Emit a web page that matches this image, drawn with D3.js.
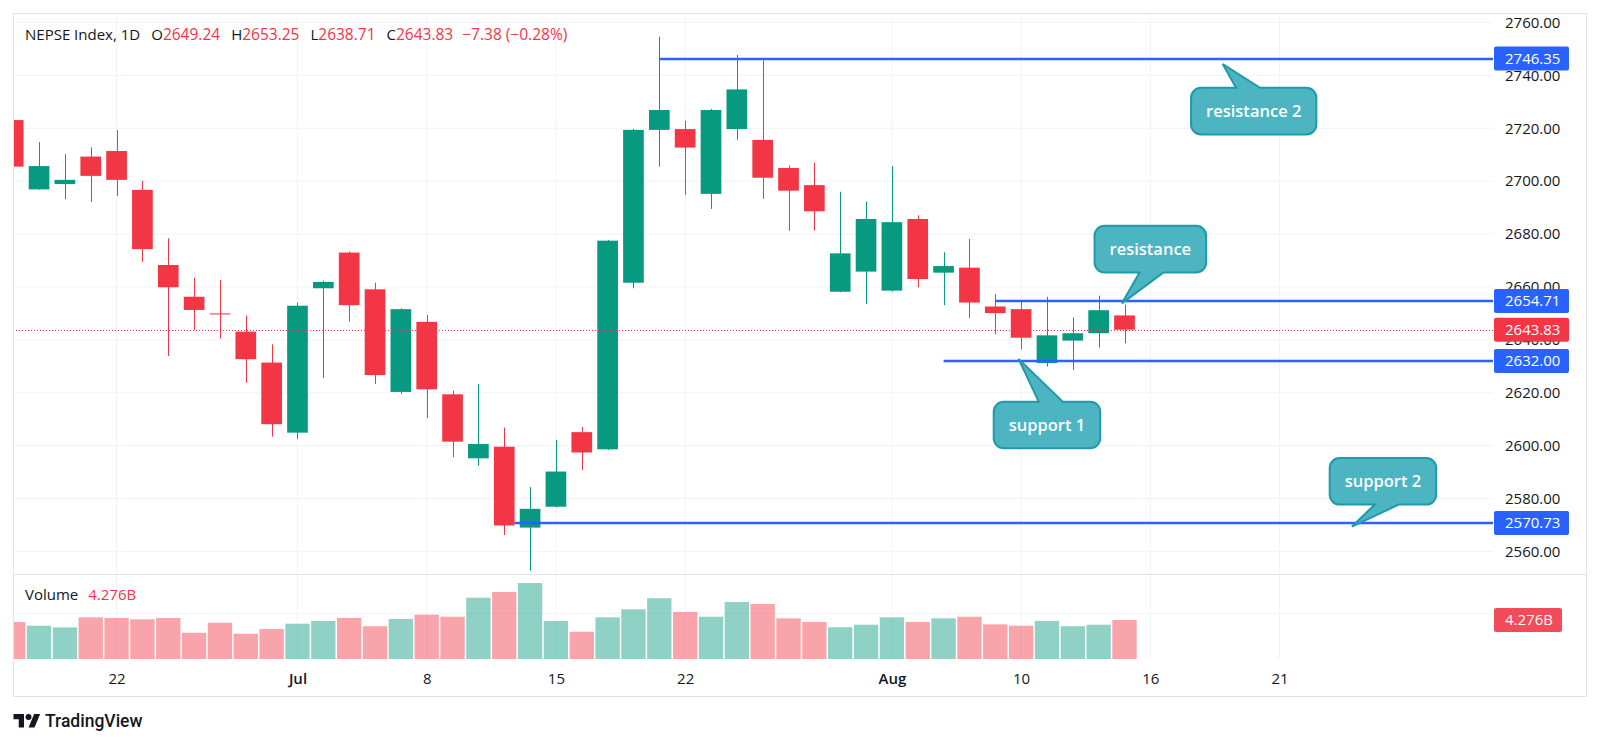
<!DOCTYPE html>
<html>
<head>
<meta charset="utf-8">
<script src="https://cdn.jsdelivr.net/npm/d3@7"></script>
<style>
  html, body { margin: 0; padding: 0; background: #fff; }
  svg { display: block; font-family: "Open Sans", "Noto Sans", sans-serif; }
</style>
</head>
<body>
<svg id="chart" width="1600" height="745"></svg>
<script>
// daily bars, index 0..43
const opens  = [2723.1, 2696.9, 2698.9, 2709.3, 2711.4, 2696.7, 2668.3, 2656.3, 2650.0, 2643.1,
                2631.4, 2604.9, 2659.5, 2673.0, 2659.1, 2620.3, 2646.8, 2619.4, 2595.2, 2599.6,
                2569.0, 2576.9, 2605.1, 2598.6, 2661.6, 2719.4, 2719.7, 2695.2, 2719.7, 2715.6,
                2705.0, 2698.5, 2658.2, 2665.8, 2658.6, 2685.7, 2665.4, 2667.3, 2652.6, 2651.6,
                2631.2, 2639.7, 2642.5, 2649.24];
const highs  = [2723.5, 2714.8, 2710.2, 2712.8, 2719.4, 2700.1, 2678.4, 2663.5, 2662.6, 2649.2,
                2638.3, 2654.1, 2662.4, 2673.4, 2661.6, 2651.9, 2649.4, 2620.8, 2623.3, 2606.8,
                2584.3, 2602.2, 2607.0, 2677.8, 2719.8, 2754.6, 2722.8, 2727.3, 2747.7, 2745.6,
                2706.0, 2707.0, 2696.0, 2692.3, 2705.7, 2687.1, 2673.1, 2678.1, 2657.4, 2654.3,
                2656.3, 2648.5, 2656.7, 2653.25];
const lows   = [2702.0, 2696.8, 2693.2, 2692.1, 2694.4, 2669.5, 2633.9, 2643.7, 2640.5, 2623.8,
                2603.4, 2602.5, 2625.5, 2646.9, 2623.3, 2619.5, 2610.4, 2595.6, 2592.4, 2566.2,
                2552.6, 2576.6, 2590.8, 2598.3, 2659.5, 2705.5, 2694.8, 2689.5, 2715.6, 2693.3,
                2681.2, 2681.3, 2658.0, 2653.5, 2658.2, 2659.9, 2653.1, 2648.2, 2642.1, 2636.4,
                2629.9, 2628.6, 2637.1, 2638.71];
const closes = [2705.5, 2705.7, 2700.5, 2702.0, 2700.5, 2674.3, 2659.9, 2651.3, 2649.6, 2632.7,
                2608.1, 2652.9, 2661.9, 2653.1, 2626.7, 2651.6, 2621.3, 2601.5, 2600.6, 2569.8,
                2576.1, 2590.2, 2597.4, 2677.5, 2719.4, 2726.9, 2712.7, 2726.9, 2734.7, 2701.3,
                2696.4, 2688.6, 2672.7, 2685.7, 2684.5, 2663.0, 2667.9, 2654.1, 2650.1, 2640.8,
                2641.7, 2642.5, 2651.21, 2643.83];
// volume in billions
const volumes = [4.06, 3.65, 3.47, 4.57, 4.50, 4.35, 4.50, 2.88, 3.98, 2.77,
                 3.29, 3.87, 4.17, 4.50, 3.59, 4.39, 4.86, 4.64, 6.72, 7.35,
                 8.33, 4.17, 2.99, 4.57, 5.45, 6.66, 5.15, 4.64, 6.25, 6.03,
                 4.46, 4.06, 3.48, 3.76, 4.57, 4.06, 4.46, 4.64, 3.80, 3.65,
                 4.17, 3.59, 3.76, 4.276];

const timeTickIdx = [4, 11, 16, 21, 26, 34, 39, 44, 49];
const timeTickLabels = ["22", "Jul", "8", "15", "22", "Aug", "10", "16", "21"];
const monthTicks = ["Jul", "Aug"];
const priceTicks = [2560, 2580, 2600, 2620, 2640, 2660, 2680, 2700, 2720, 2740, 2760];
const volumeTicks = [5];

// horizontal levels drawn on the chart
const levelPrices = [2746.35, 2654.71, 2632.00, 2570.73];
const levelStarts = [25, 38, 36, 19.4];

// callouts: text, box centre and tail tip in (bar index, price)
const calloutTexts = ["resistance 2", "resistance", "support 1", "support 2"];
const calloutBoxIdx = [48, 44, 40, 53];
const calloutBoxPrice = [2726.5, 2674.3, 2607.8, 2586.5];
const calloutTipIdx = [46.8, 42.9, 38.9, 51.8];
const calloutTipPrice = [2744.3, 2653.8, 2632.8, 2569.4];

const up = '#089981', down = '#f23645', blue = '#2962ff';
const grid = '#f0f3fa', frame = '#e0e3eb', ink = '#131722';
const font = '"Open Sans", "Noto Sans", sans-serif';

const paneL = 13, paneR = 1493, frameR = 1587, paneT = 13, sep = 574, volBase = 659, frameB = 697;

let svg = d3.select('#chart');

let x = d3.scaleLinear().domain([0, 43]).range([13.2, 1124.5]);
let y = d3.scaleLinear().domain([2560, 2760]).range([551.4, 22.5]);
let yv = d3.scaleLinear().domain([0, 5]).range([volBase, 613.4]);
let step = x(1) - x(0);

let bars = opens.map((o, i) => ({
    i: i, o: o, h: highs[i], l: lows[i], c: closes[i], v: volumes[i], up: closes[i] >= o
}));
let last = bars[bars.length - 1];
let prev = bars[bars.length - 2];

let defs = svg.append('defs');
defs.append('clipPath').attr('id', 'price-clip')
    .append('rect').attr('x', paneL).attr('y', paneT).attr('width', paneR - paneL).attr('height', sep - paneT);
defs.append('clipPath').attr('id', 'vol-clip')
    .append('rect').attr('x', paneL).attr('y', sep).attr('width', paneR - paneL).attr('height', volBase - sep);

/// GRID ///
let gridG = svg.append('g').attr('class', 'grid');
gridG.selectAll('.hgrid').data(priceTicks).join('line').attr('class', 'hgrid')
    .attr('x1', paneL).attr('x2', paneR)
    .attr('y1', d => y(d)).attr('y2', d => y(d))
    .attr('stroke', grid).attr('stroke-width', 1);
gridG.selectAll('.vgrid-v').data(volumeTicks).join('line').attr('class', 'vgrid-v')
    .attr('x1', paneL).attr('x2', paneR)
    .attr('y1', d => yv(d)).attr('y2', d => yv(d))
    .attr('stroke', grid).attr('stroke-width', 1);
gridG.selectAll('.tgrid').data(timeTickIdx).join('line').attr('class', 'tgrid')
    .attr('x1', d => x(d)).attr('x2', d => x(d))
    .attr('y1', paneT).attr('y2', volBase)
    .attr('stroke', grid).attr('stroke-width', 1);

/// VOLUME ///
svg.append('g').attr('clip-path', 'url(#vol-clip)')
    .selectAll('rect').data(bars).join('rect')
    .attr('x', d => x(d.i) - step / 2 + 0.75)
    .attr('width', step - 1.5)
    .attr('y', d => yv(d.v))
    .attr('height', d => volBase - yv(d.v))
    .attr('fill', d => d.up ? 'rgba(8,153,129,0.45)' : 'rgba(242,54,69,0.45)');

/// CANDLES ///
let candleG = svg.append('g').attr('clip-path', 'url(#price-clip)');
let bodyW = step * 0.8;
let candles = candleG.selectAll('g.candle').data(bars).join('g').attr('class', 'candle');
candles.append('line')
    .attr('x1', d => Math.round(x(d.i)) + 0.5).attr('x2', d => Math.round(x(d.i)) + 0.5)
    .attr('y1', d => y(d.h)).attr('y2', d => y(d.l))
    .attr('stroke', d => d.up ? up : down).attr('stroke-width', 1);
candles.append('rect')
    .attr('x', d => x(d.i) - bodyW / 2)
    .attr('width', bodyW)
    .attr('y', d => y(Math.max(d.o, d.c)))
    .attr('height', d => Math.max(1, Math.abs(y(d.o) - y(d.c))))
    .attr('fill', d => d.up ? up : down);

// last price dotted line
candleG.append('line')
    .attr('x1', paneL).attr('x2', paneR)
    .attr('y1', Math.round(y(last.c)) + 0.5).attr('y2', Math.round(y(last.c)) + 0.5)
    .attr('stroke', down).attr('stroke-width', 1).attr('stroke-dasharray', '1,2');

// horizontal levels
candleG.selectAll('.level').data(levelPrices).join('line').attr('class', 'level')
    .attr('x1', (d, i) => x(levelStarts[i])).attr('x2', paneR)
    .attr('y1', d => Math.round(y(d))).attr('y2', d => Math.round(y(d)))
    .attr('stroke', blue).attr('stroke-width', 2.4);

/// CALLOUTS ///
function calloutPath(x0, y0, w, h, tx, ty, r) {
    let x1 = x0 + w, y1 = y0 + h, bl = x0 + 45, br = x0 + 69;
    let p = d3.path();
    p.moveTo(x0 + r, y0);
    if (ty < y0) { p.lineTo(bl, y0); p.lineTo(tx, ty); p.lineTo(br, y0); }
    p.lineTo(x1 - r, y0); p.arcTo(x1, y0, x1, y0 + r, r);
    p.lineTo(x1, y1 - r); p.arcTo(x1, y1, x1 - r, y1, r);
    if (ty > y1) { p.lineTo(br, y1); p.lineTo(tx, ty); p.lineTo(bl, y1); }
    p.lineTo(x0 + r, y1); p.arcTo(x0, y1, x0, y1 - r, r);
    p.lineTo(x0, y0 + r); p.arcTo(x0, y0, x0 + r, y0, r);
    p.closePath();
    return p.toString();
}

calloutTexts.forEach((t, i) => {
    let g = svg.append('g').attr('class', 'callout');
    let cx = x(calloutBoxIdx[i]), cy = y(calloutBoxPrice[i]);
    let txt = g.append('text')
        .attr('x', cx).attr('y', cy).attr('dy', '0.35em')
        .attr('text-anchor', 'middle')
        .attr('font-size', 16.5).attr('font-weight', 600)
        .attr('fill', '#ffffff').text(t);
    let w = txt.node().getComputedTextLength() + 30, h = 46.6;
    g.insert('path', 'text')
        .attr('d', calloutPath(cx - w / 2, cy - h / 2, w, h, x(calloutTipIdx[i]), y(calloutTipPrice[i]), 10))
        .attr('fill', '#4cb5c1').attr('stroke', '#1f9aab').attr('stroke-width', 2);
});

/// HEADER ///
let fmt = d3.format('.2f');
let chg = last.c - prev.c;
let pct = chg / prev.c * 100;
let signed = v => (v < 0 ? '\u2212' : '+') + fmt(Math.abs(v));
let header = svg.append('text').attr('x', 25).attr('y', 40).attr('font-size', 15).attr('fill', ink);
header.append('tspan').text('NEPSE Index, 1D');
[['O', last.o], ['H', last.h], ['L', last.l], ['C', last.c]].forEach(p => {
    header.append('tspan').attr('dx', 11).attr('fill', ink).text(p[0]);
    header.append('tspan').attr('fill', down).attr('font-size', 15.5).text(fmt(p[1]));
});
header.append('tspan').attr('dx', 9).attr('fill', down).attr('font-size', 15.5)
    .text(signed(chg) + ' (' + signed(pct) + '%)');

let volHead = svg.append('text').attr('x', 25).attr('y', 600).attr('font-size', 15).attr('fill', ink);
volHead.append('tspan').text('Volume');
volHead.append('tspan').attr('dx', 10).attr('fill', down).text(d3.format('.3f')(last.v) + 'B');

/// PRICE AXIS ///
let ay = svg.append('g').attr('transform', 'translate(' + paneR + ',0)')
    .call(d3.axisRight(y).tickValues(priceTicks).tickFormat(fmt).tickSize(0).tickPadding(12));
ay.select('.domain').remove();
ay.attr('font-size', 15).attr('font-family', font);
ay.selectAll('text').attr('fill', ink);

let avy = svg.append('g').attr('transform', 'translate(' + paneR + ',0)')
    .call(d3.axisRight(yv).tickValues(volumeTicks).tickFormat(d => d + 'B').tickSize(0).tickPadding(12));
avy.select('.domain').remove();
avy.attr('font-size', 15).attr('font-family', font);
avy.selectAll('text').attr('fill', ink);

// value boxes on the axis
let boxes = levelPrices.map(p => ({ yy: y(p), label: fmt(p), fill: blue, w: 75 }));
boxes.push({ yy: y(last.c), label: fmt(last.c), fill: down, w: 75 });
boxes.push({ yy: yv(last.v), label: d3.format('.3f')(last.v) + 'B', fill: '#f24c5a', w: 68 });
let boxG = svg.append('g').selectAll('g').data(boxes).join('g');
boxG.append('rect')
    .attr('x', paneR + 1).attr('y', d => d.yy - 12)
    .attr('width', d => d.w).attr('height', 24).attr('rx', 2)
    .attr('fill', d => d.fill);
boxG.append('text')
    .attr('x', paneR + 12).attr('y', d => d.yy).attr('dy', '0.35em')
    .attr('font-size', 15).attr('fill', '#ffffff').text(d => d.label);

/// TIME AXIS ///
let ax = svg.append('g').attr('transform', 'translate(0,' + volBase + ')')
    .call(d3.axisBottom(x).tickValues(timeTickIdx).tickFormat((d, i) => timeTickLabels[i]).tickSize(0).tickPadding(14));
ax.select('.domain').remove();
ax.attr('font-size', 15).attr('font-family', font);
ax.selectAll('text').attr('fill', ink)
    .attr('font-weight', (d, i) => monthTicks.indexOf(timeTickLabels[i]) > -1 ? 600 : 400);

/// FRAME ///
svg.append('rect').attr('x', paneL + 0.5).attr('y', paneT + 0.5)
    .attr('width', frameR - paneL - 1).attr('height', frameB - paneT - 1)
    .attr('fill', 'none').attr('stroke', frame);
svg.append('line').attr('x1', paneL).attr('x2', frameR).attr('y1', sep + 0.5).attr('y2', sep + 0.5)
    .attr('stroke', frame);

/// LOGO ///
let logo = svg.append('g').attr('transform', 'translate(13.5,711) scale(0.75)').attr('fill', ink);
logo.append('path').attr('d', 'M14 22H7V11H0V4h14v18zM28 22h-8l7.5-18h8L28 22z');
logo.append('circle').attr('cx', 20).attr('cy', 8).attr('r', 4);
svg.append('text').attr('x', 45).attr('y', 726.5)
    .attr('font-family', 'Roboto, sans-serif').attr('font-size', 17.5).attr('font-weight', 500)
    .attr('fill', ink).text('TradingView');
</script>
</body>
</html>
